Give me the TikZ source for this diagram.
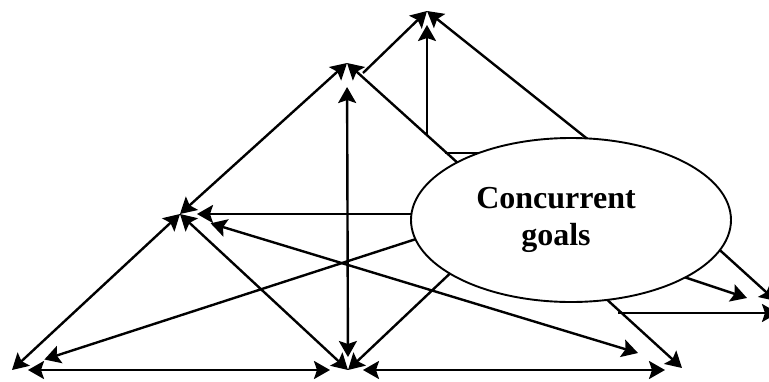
\documentclass[tikz,border=0pt]{standalone}
\usepackage{fontspec}
\setmainfont{Liberation Serif}
\usepackage{tikz}
\usetikzlibrary{arrows.meta}
\usetikzlibrary{shapes.geometric}

\begin{document}
\begin{tikzpicture}[x=1pt,y=-1pt,
		link/.style={line width=2.4pt},
		one/.style={-{Stealth[length=16pt,width=18pt,inset=3pt]}},
		both/.style={{Stealth[length=16pt,width=18pt,inset=3pt]}-{Stealth[length=16pt,width=18pt,inset=3pt]}},
		goalbox/.style={ellipse,draw,line width=1.9pt,fill=white,
			minimum width=320pt,minimum height=164pt,inner sep=0pt},
		goalfont/.style={font=\fontsize{32}{37}\selectfont\bfseries,align=center}]
		
		\useasboundingbox (0,0) rectangle (769,381);
		
		% Corners of the two triangles
		\coordinate (A) at (427,11);
		\coordinate (B) at (347,63);
		\coordinate (C) at (180,214);
		\coordinate (D) at (12,370);
		\coordinate (E) at (348,370);
		
		% Free ends at the right
		\coordinate (F1) at (638,353);
		\coordinate (F2) at (665,370);
		\coordinate (F3) at (682,368);
		\coordinate (R1) at (747,298);
		\coordinate (R2) at (776,301);
		\coordinate (R3) at (778,313);
		
		% Starts on other lines
		\coordinate (ba) at (363,73);
		\coordinate (v1) at (427,135);
		\coordinate (h1) at (445,153);
		\coordinate (h2) at (618,313);
		
		% Ends under the ellipse
		\coordinate (g1) at (595,145);
		\coordinate (g2) at (470,174);
		\coordinate (g3) at (430,214);
		\coordinate (g4) at (430,234.5);
		\coordinate (g5) at (460,264);
		\coordinate (g6) at (675,274);
		\coordinate (g7) at (712,243);
		\coordinate (g8) at (603,296);
		\coordinate (g9) at (500,153);
		
		% Top apex
		\draw[link,one] (ba) -- (A);
		\draw[link,one,shorten >=14pt] (v1) -- (A);
		\draw[link,one] (g1) -- (A);
		\draw[link] (h1) -- (g9);
		
		% Upper triangle
		\draw[link,one] (g2) -- (B);
		\draw[link,both,shorten <=24pt,shorten >=13pt] (B) -- (E);
		\draw[link,both] (B) -- (C);
		
		% Lower triangle
		\draw[link,both] (C) -- (D);
		\draw[link,both] (C) -- (E);
		\draw[link,both,shorten <=16pt,shorten >=18pt] (D) -- (E);
		\draw[link,both,shorten <=15pt] (E) -- (F2);
		\draw[link,both,shorten <=32pt] (C) -- (F1);
		
		% From the ellipse
		\draw[link,one,shorten >=17pt] (g3) -- (C);
		\draw[link,one,shorten >=34pt] (g4) -- (D);
		\draw[link,one] (g5) -- (E);
		\draw[link,one] (g6) -- (R1);
		\draw[link,one] (g7) -- (R2);
		\draw[link,one] (h2) -- (R3);
		\draw[link,one] (g8) -- (F3);
		
		% Concurrent goals
		\node[goalbox,label={[goalfont,xshift=-15pt]center:{Concurrent\\goals}}] (goals) at (571,220) {};
		
	\end{tikzpicture}
\end{document}
